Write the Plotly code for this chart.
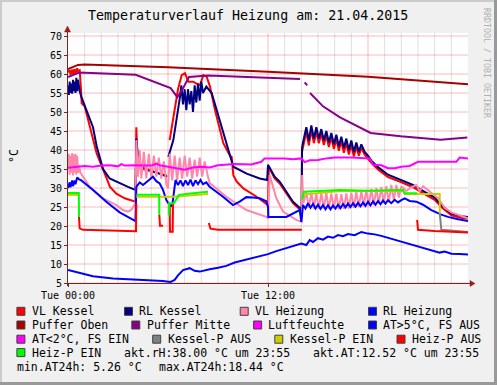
import plotly.graph_objects as go

# ---------------- data (hours since Tue 00:00, °C) ----------------
T_VL_KESSEL = [0, 0.1, 0.15, 0.25, 0.3, 0.4, 0.45, 0.55, 0.6, 0.7, 0.78, 0.82, 1.0, 1.22, 1.72, 2.12, 2.52, 2.9, 3.4, 4.05,
               4.1, 4.15, 4.3, 4.5, 5.0, 5.5, 5.92, 5.98, 6.1, 6.25, 6.42, 6.6, 6.82, 7.02, 7.22, 7.52, 7.7, 7.92, 8.12, 8.32,
               8.52, 8.82, 9.32, 9.72, 9.82, 9.92, 10.12, 10.52, 11.32, 12.0, 12.05, 12.4, 12.7, 13.5, 13.95, 14.02,
               14.04, 14.1, 14.3, 14.45, 14.6, 14.75, 14.9, 15.05, 15.2, 15.35, 15.5, 15.65, 15.8, 15.95, 16.1, 16.25,
               16.4, 16.55, 16.7, 16.85, 17.0, 17.15, 17.3, 17.45, 17.6, 17.8, 18.0, 18.2, 18.6, 19.2, 19.9, 20.7, 21.4,
               22.0, 22.4, 23.0, 23.6, 24.0]
VL_KESSEL = [60.5, 61, 59.8, 61.2, 60, 61.3, 60.2, 61.5, 60.8, 61, 56, 52.3, 51.5, 47.9, 39.1, 34.7, 30.3, 28.5, 27.3, 26.4,
             46, 40, 36, 35, 34.3, 33.8, 33.3, None, 42.6, 47, 51.4, 56, 59.7, 60.2, 58, 58, 57.5, 57.1, 59.7, 59.3,
             56.7, 50.5, 41.8, 38.5, 38.2, 33.4, 31.7, 29.9, 27.7, 25.5, 35.5, 32.5, 31.2, 26, 24.2, 22.0,
             39.5, 40.8, 44.8, 41.2, 45.3, 41.8, 44.8, 41.8, 44.3, 41.3, 43.8, 40.8, 43.3, 40.3, 42.8, 39.8,
             42.3, 39.3, 41.8, 38.8, 41.3, 38.3, 40.8, 38.5, 40.5, 38.8, 37.8, 36.6, 34.9, 32.9, 31.7, 30.2, 28.4,
             26.9, 25.0, 22.8, 22.1, 22.0]

T_RL_KESSEL = [0, 0.05, 0.1, 0.15, 0.2, 0.25, 0.3, 0.35, 0.4, 0.45, 0.5, 0.55, 0.6, 0.65, 0.7, 0.8, 1.2, 1.5, 1.72, 2.1,
               2.5, 3.1, 3.6, 4.05, 4.1, 4.2, 4.4, 4.9, 5.5, 5.95, 5.99, 6.02, 6.32, 6.72, 6.8, 6.9, 7.0, 7.1, 7.2, 7.3,
               7.4, 7.5, 7.6, 7.7, 7.8, 7.9, 8.0, 8.1, 8.3, 8.62, 8.92, 9.52, 9.92, 10.72, 11.5, 11.95, 12.0, 12.4,
               12.7, 13.5, 13.95, 14.02, 14.04, 14.1, 14.3, 14.45, 14.6, 14.75, 14.9, 15.05, 15.2, 15.35, 15.5, 15.65,
               15.8, 15.95, 16.1, 16.25, 16.4, 16.55, 16.7, 16.85, 17.0, 17.15, 17.3, 17.45, 17.6, 17.8, 18.0, 18.2,
               18.6, 19.2, 19.9, 20.7, 21.4, 22.0, 22.4, 23.0, 23.6, 24.0]
RL_KESSEL = [57, 54.5, 58, 55, 57.5, 54.8, 58.5, 55.5, 58, 55, 59, 55.5, 58.5, 56, 55.5, 54, 49.7, 46, 41, 35,
             32.5, 31.2, 30.3, 29.5, 43, 38, 35.6, 34.7, 33.8, 33, None, 38.2, 42.6, 54, 57, 52, 56, 50.5, 56, 52,
             55.5, 50, 57, 52.5, 57.5, 53, 58, 55, 56.7, 55, 50.5, 40.9, 35.6, 33.8, 32.5, 32.1, 36.1, 33,
             31.7, 26.4, 24.6, 22.3, 40.5, 42, 46, 42.5, 46.5, 43, 46, 43, 45.5, 42.5, 45, 42,
             44.5, 41.5, 44, 41, 43.5, 40.5, 43, 40, 42.5, 39.5, 42, 39.5, 41.5, 39.5, 38.5, 37.2,
             35.5, 33.5, 32.3, 30.8, 29.0, 27.5, 25.5, 23.3, 22.6, 22.4]

T_VL_HEIZUNG = [0, 0.05, 0.1, 0.15, 0.2, 0.25, 0.3, 0.35, 0.4, 0.45, 0.5, 0.55, 0.6, 0.65, 0.75, 1.3, 2.1, 2.9, 3.3,
                3.6, 3.8, 4.05, 4.1, 4.2, 4.3, 4.4, 4.55, 4.7, 4.85, 5.0, 5.15, 5.3, 5.45, 5.6, 5.75, 5.9, 6.0, 6.1,
                6.25, 6.4, 6.55, 6.7, 6.85, 7.0, 7.15, 7.3, 7.45, 7.6, 7.75, 7.9, 8.05, 8.2, 8.4, 8.5, 9.5, 10.7,
                11.9, 12.0, 12.1, 12.5, 12.9, 13.7, 14.02, 14.05, 14.12, 14.3, 14.45, 14.6, 14.75, 14.9, 15.05, 15.2,
                15.35, 15.5, 15.65, 15.8, 15.95, 16.1, 16.25, 16.4, 16.55, 16.7, 16.85, 17.0, 17.15, 17.3, 17.45,
                17.6, 17.75, 17.9, 18.05, 18.2, 18.35, 18.5, 18.65, 18.8, 18.95, 19.1, 19.25, 19.4, 19.55, 19.7,
                19.85, 20.0, 20.3, 20.6, 20.9, 21.1, 21.3, 21.6, 21.9, 22.2, 22.6, 23.0, 23.5, 24.0]
VL_HEIZUNG = [35, 39, 33.5, 38.5, 34, 39.2, 33.3, 38.8, 34, 39, 33.5, 38.5, 34, 36, 34, 30.3, 27.3, 25.5, 24.2,
              23.8, 24.3, 26, 42.6, 33, 40, 32.5, 39.5, 32.5, 39, 32.5, 38.5, 33, 38, 32.5, 37, 31, 30, 39,
              32, 38.5, 32, 38, 32.5, 38.5, 33, 38, 32.5, 37.5, 33, 38, 33, 37, 33, 31.3, 27.7, 24.2,
              22.4, 22, 33.4, 27.3, 23.8, 21.6, 21.1, 33.4, 26, 29, 24.8, 28.8, 24.6, 28.6, 24.5, 28.7,
              24.6, 28.8, 24.5, 28.6, 24.6, 28.5, 24.4, 28.4, 24.5, 28.6, 24.6, 28.8, 24.8, 29, 25,
              29.2, 25.2, 29.5, 25.3, 29.8, 25.5, 30, 25.8, 30.3, 26, 30.5, 26.3, 30.8, 26.8, 30.8,
              27.5, 30.5, 29.2, 30.2, 30.8, 29.2, 30.5, 29.5, 28.5, 27.3, 24.8, 23.6, 22.8, 22.0]

T_RL_HEIZUNG = [0, 0.1, 0.15, 0.25, 0.3, 0.4, 0.45, 0.55, 0.65, 0.8, 1.5, 2.3, 3.1, 3.6, 4.05, 4.1, 4.3, 4.5, 4.8, 5.1,
                5.3, 5.5, 5.7, 5.9, 6.1, 6.25, 6.45, 6.6, 6.75, 6.9, 7.05, 7.2, 7.35, 7.5, 7.65, 7.8, 7.95, 8.1,
                8.3, 8.5, 9.3, 9.9, 10.3, 10.7, 11.1, 11.5, 11.9, 12.0, 12.02, 13.1, 13.9, 14.0, 14.1, 14.25, 14.4,
                14.55, 14.7, 14.85, 15.0, 15.15, 15.3, 15.45, 15.6, 15.75, 15.9, 16.05, 16.2, 16.35, 16.5, 16.65,
                16.8, 16.95, 17.1, 17.25, 17.4, 17.55, 17.7, 17.85, 18.0, 18.15, 18.3, 18.45, 18.6, 18.75, 18.9,
                19.05, 19.2, 19.4, 19.6, 19.8, 20.0, 20.2, 20.5, 20.9, 21.3, 21.8, 22.4, 22.8, 23.4, 24.0]
RL_HEIZUNG = [30, 31.5, 30.2, 32, 30.5, 32, 31, 32.8, 32.3, 32, 29.5, 26.4, 23.6, 22.3, 21.3, 30.3, 31.5, 30.8, 32, 33,
              31.8, 31.2, 29.5, 26.8, 25.5, 25.2, 32.1, 30.8, 32, 30.5, 32, 30.8, 32.2, 30.5, 32, 31, 32.1, 31,
              31.5, 30.3, 27.7, 25.5, 26.4, 27.6, 27.5, 27.3, 26.5, 25.1, 22.4, 22.4, 24.2, 21.1, 25.5, 24.6, 26,
              24.8, 25.8, 24.6, 25.6, 24.5, 25.5, 24.4, 25.5, 24.4, 25.4, 24.6, 25.6, 24.7, 25.8, 24.9,
              25.9, 25, 26, 25.1, 26.1, 25.2, 26.2, 25.3, 26.4, 25.4, 26.5, 25.6, 26.6, 25.7, 26.7,
              25.9, 26.8, 26, 26.9, 26.2, 26.8, 27.3, 26.6, 26.4, 25.6, 24.2, 23, 22.4, 21.8, 21.3]

T_PUFFER_OBEN = [0, 0.6, 1.0, 6, 12, 18, 24]
PUFFER_OBEN = [61.3, 62.4, 62.5, 61.8, 60.6, 59.3, 57.3]

T_PUFFER_MITTE = [0, 0.66, 4.06, 6.16, 6.56, 6.86, 7.26, 8.4, 13.92, 14.05, 14.2, 14.35, 14.42, 14.52, 15.3, 16.32,
                  16.96, 18.16, 19.96, 22.36, 23.96]
PUFFER_MITTE = [59.2, 60.4, 59.8, 56.3, 53.9, 55.9, 59.2, 59.6, 58.7, None, 57.8, 57.0, None, 55.0, 51.5, 48.6,
                47.1, 44.5, 43.6, 42.7, 43.3]

T_LUFTFEUCHTE = [0, 0.5, 1, 1.5, 2, 2.5, 3, 3.2, 3.4, 4, 5, 5.3, 5.5, 6, 6.5, 7, 7.5, 8, 8.5, 9, 10, 11, 11.6, 11.8,
                 13, 13.5, 14, 14.2, 14.5, 15, 15.5, 16, 17, 18.1, 18.3, 18.8, 19.2, 19.6, 20, 20.5, 21, 22, 23.3,
                 23.5, 24]
LUFTFEUCHTE = [35.3, 35.6, 35.8, 35.6, 35.9, 36, 35.7, 36.3, 35.9, 36, 35.9, 36.4, 36, 35.6, 35.2, 34.8, 35.4, 35.6,
               35.4, 36, 36.3, 36.2, 36.9, 37.8, 37.8, 37.6, 37.8, 36.8, 37.3, 37.4, 37.8, 38.0, 38.0, 37.8, 36.1,
               36, 35.2, 35.2, 35.6, 35.8, 36.9, 36.9, 36.9, 38, 37.8]

T_AT = [0, 0.7, 1.5, 2.7, 3.8, 4.8, 5.7, 6.15, 6.4, 6.6, 6.9, 7.3, 7.6, 7.9, 8.2, 8.5, 9.0, 9.5, 10.0, 10.5, 11.0,
        11.5, 12.0, 12.5, 13.0, 13.5, 14.0, 14.3, 14.5, 14.7, 15.0, 15.3, 15.6, 15.9, 16.2, 16.5, 16.8, 17.2, 17.6,
        18.0, 18.4, 18.8, 19.2, 19.6, 20.0, 20.4, 20.8, 21.2, 21.6, 22.0, 22.3, 22.6, 23.0, 23.5, 24.0]
AT_WARM = [8.4, 7.6, 6.8, 6.2, 6.0, 5.8, 5.5, 5.26, 5.8, 7.0, 8.4, 8.9, 8.2, 8.0, 8.4, 8.6, 9.0, 9.5, 10.4, 10.9,
           11.6, 12.0, 12.6, 13.4, 14.0, 14.8, 15.4, 15.0, 16.3, 15.8, 16.8, 16.4, 17.2, 16.9, 17.6, 17.3, 17.9,
           17.6, 18.44, 18.0, 17.8, 17.4, 16.9, 16.2, 15.8, 15.3, 14.8, 14.3, 13.7, 13.2, 13.0, 13.3, 12.7, 12.6,
           12.52]

T_AT_COLD = []
AT_COLD = []

T_KESSEL_P_AUS = [22.31, 22.4, 24.0]
KESSEL_P_AUS = [23.2, 19.0, 18.4]

T_KESSEL_P_EIN = [0, 0.65, 0.7, 4.1, 6.3, 8.4, 8.45, 14.05, 16.3, 20.1, 20.2, 22.3, 22.31]
KESSEL_P_EIN = [28.2, 28.2, None, 27.7, 27.7, 28.4, None, 28.2, 29.2, 29.2, 28.4, 28.4, 23.2]

T_HEIZ_P_AUS = [0.66, 0.7, 0.9, 2.0, 4.08, 4.1, 4.15, 5.48, 5.52, 5.7, 5.8, 6.1, 6.12, 6.28, 6.3, 6.4, 8.45, 8.55,
                9.0, 14.03, 14.1, 20.95, 21.0, 22.0, 24.0]
HEIZ_P_AUS = [22.4, 19.4, 19.0, 18.9, 18.6, 26.0, None, 22.9, 20.1, 20.1, None, 26.0, 18.5, 18.5, 26.0, None, 20.8,
              19.3, 19.0, 19.0, None, 21.6, 19.0, 18.7, 18.3]

T_HEIZ_P_EIN = [0, 0.65, 0.66, 0.7, 4.1, 5.47, 5.48, 5.6, 6.05, 6.06, 6.35, 6.66, 7.5, 8.4, 8.45, 14.05, 14.15,
                16.3, 18.0, 20.1, 20.2, 20.95]
HEIZ_P_EIN = [28.7, 28.7, 22.4, None, 28.2, 28.2, 22.9, None, 22.8, 26.0, 26.0, 28.2, 28.6, 29.0, None, 27.0, 29.0,
              29.5, 29.3, 29.5, 28.6, 28.6]

SERIES = [
    ("VL Kessel", T_VL_KESSEL, VL_KESSEL, "#FF0000"),
    ("RL Kessel", T_RL_KESSEL, RL_KESSEL, "#000080"),
    ("VL Heizung", T_VL_HEIZUNG, VL_HEIZUNG, "#FF88AA"),
    ("RL Heizung", T_RL_HEIZUNG, RL_HEIZUNG, "#0000FF"),
    ("Puffer Oben", T_PUFFER_OBEN, PUFFER_OBEN, "#A80000"),
    ("Puffer Mitte", T_PUFFER_MITTE, PUFFER_MITTE, "#880088"),
    ("Luftfeuchte", T_LUFTFEUCHTE, LUFTFEUCHTE, "#FF00FF"),
    ("AT>5°C, FS AUS", T_AT, AT_WARM, "#0000FF"),
    ("AT<2°C, FS EIN", T_AT_COLD, AT_COLD, "#FF00FF"),
    ("Kessel-P AUS", T_KESSEL_P_AUS, KESSEL_P_AUS, "#808080"),
    ("Kessel-P EIN", T_KESSEL_P_EIN, KESSEL_P_EIN, "#CCCC00"),
    ("Heiz-P AUS", T_HEIZ_P_AUS, HEIZ_P_AUS, "#FF0000"),
    ("Heiz-P EIN", T_HEIZ_P_EIN, HEIZ_P_EIN, "#00FF00"),
]

LEGEND_ROWS = [
    [("VL Kessel", 30.7), ("RL Kessel", 138.3), ("VL Heizung", 254.0), ("RL Heizung", 382.3)],
    [("Puffer Oben", 30.7), ("Puffer Mitte", 145.6), ("Luftfeuchte", 267.4), ("AT>5°C, FS AUS", 382.3)],
    [("AT<2°C, FS EIN", 30.7), ("Kessel-P AUS", 166.5), ("Kessel-P EIN", 288.6), ("Heiz-P AUS", 410.8)],
    [("Heiz-P EIN", 30.7)],
]
INFO_TEXTS = [("akt.rH:38.00 °C um 23:55", 122.5, 3), ("akt.AT:12.52 °C um 23:55", 312.3, 3),
              ("min.AT24h: 5.26 °C", 16.0, 4), ("max.AT24h:18.44 °C", 158.3, 4)]
ROW_Y = [311.3, 325.0, 339.2, 352.6, 367.0]

TITLE = "Temperaturverlauf Heizung am: 21.04.2015"
X_TICKS = [0, 12]
X_TICKTEXT = ["Tue 00:00", "Tue 12:00"]
Y_TICKS = list(range(5, 71, 5))

# ---------------- geometry ----------------
W, H = 497, 385
L, R, T, B = 68, 468, 33, 283
MONO = "DejaVu Sans Mono"


def px(x):
    return (x - L) / (R - L)


def py(y):
    return (B - y) / (B - T)


fig = go.Figure()
for name, t, v, col in SERIES:
    fig.add_trace(go.Scatter(x=t, y=v, mode="lines", name=name, line=dict(color=col, width=2),
                             connectgaps=False, hoverinfo="skip"))

shapes = []
# grid
for h in range(1, 24):
    if h % 6 == 0:
        continue
    shapes.append(dict(type="line", xref="x", yref="paper", x0=h, x1=h, y0=0, y1=1,
                       line=dict(color="rgba(140,140,140,0.28)", width=1), layer="below"))
for val in Y_TICKS:
    shapes.append(dict(type="line", xref="paper", yref="y", x0=0, x1=1, y0=val, y1=val,
                       line=dict(color="rgba(255,0,0,0.27)", width=1), layer="below"))
for h in (6, 12, 18):
    shapes.append(dict(type="line", xref="x", yref="paper", x0=h, x1=h, y0=0, y1=1,
                       line=dict(color="rgba(255,0,0,0.27)", width=1), layer="below"))

AXIS = "#6A2A2A"
ARROW = "#A01818"
# axes
shapes.append(dict(type="line", xref="paper", yref="paper", x0=px(65), x1=px(472), y0=py(283.5), y1=py(283.5),
                   line=dict(color=AXIS, width=1)))
shapes.append(dict(type="line", xref="paper", yref="paper", x0=px(67.5), x1=px(67.5), y0=py(286), y1=py(29),
                   line=dict(color=AXIS, width=1)))
shapes.append(dict(type="path", xref="paper", yref="paper",
                   path=f"M {px(470)} {py(280.5)} L {px(475)} {py(283.5)} L {px(470)} {py(286.5)} Z",
                   fillcolor=ARROW, line=dict(color=ARROW, width=0.5)))
shapes.append(dict(type="path", xref="paper", yref="paper",
                   path=f"M {px(64.5)} {py(32)} L {px(67.5)} {py(26)} L {px(70.5)} {py(32)} Z",
                   fillcolor=ARROW, line=dict(color=ARROW, width=0.5)))
# 3D frame
shapes.append(dict(type="rect", xref="paper", yref="paper", x0=px(0), x1=px(W), y0=py(2), y1=py(0),
                   fillcolor="#CBCBCB", line=dict(width=0)))
shapes.append(dict(type="rect", xref="paper", yref="paper", x0=px(0), x1=px(2), y0=py(H), y1=py(0),
                   fillcolor="#CBCBCB", line=dict(width=0)))
shapes.append(dict(type="rect", xref="paper", yref="paper", x0=px(0), x1=px(W), y0=py(H), y1=py(H - 3),
                   fillcolor="#999999", line=dict(width=0)))
shapes.append(dict(type="rect", xref="paper", yref="paper", x0=px(W - 3), x1=px(W), y0=py(H), y1=py(0),
                   fillcolor="#999999", line=dict(width=0)))

annotations = []
colors = {name: col for name, _, _, col in SERIES}
for r, row in enumerate(LEGEND_ROWS):
    yc = ROW_Y[r]
    for name, tx in row:
        bx = tx - 14.3
        shapes.append(dict(type="rect", xref="paper", yref="paper", x0=px(bx + 0.5), x1=px(bx + 8.5),
                           y0=py(yc + 4), y1=py(yc - 4), fillcolor=colors[name],
                           line=dict(color="#404040", width=1)))
        annotations.append(dict(text=name, x=px(tx - 1), y=py(yc), xref="paper", yref="paper",
                                xanchor="left", yanchor="middle", showarrow=False,
                                font=dict(family=MONO, size=11.5, color="#000")))
for text, tx, r in INFO_TEXTS:
    annotations.append(dict(text=text, x=px(tx - 1), y=py(ROW_Y[r]), xref="paper", yref="paper",
                            xanchor="left", yanchor="middle", showarrow=False,
                            font=dict(family=MONO, size=11.5, color="#000")))

annotations.append(dict(text=TITLE, x=px(248), y=py(16), xref="paper", yref="paper", xanchor="center",
                        yanchor="middle", showarrow=False, font=dict(family=MONO, size=13.3, color="#000")))
annotations.append(dict(text="°C", x=px(14), y=py(156), xref="paper", yref="paper", xanchor="center",
                        yanchor="middle", showarrow=False, textangle=-90,
                        font=dict(family=MONO, size=11.5, color="#000")))
annotations.append(dict(text="RRDTOOL / TOBI OETIKER", x=px(487), y=py(63), xref="paper", yref="paper",
                        xanchor="center", yanchor="middle", showarrow=False, textangle=90,
                        font=dict(family=MONO, size=8.3, color="#B0B0B0")))

fig.update_layout(
    width=W, height=H,
    margin=dict(l=L, r=W - R, t=T, b=H - B, pad=0, autoexpand=False),
    paper_bgcolor="#F0F0F0", plot_bgcolor="#FFFFFF",
    showlegend=False, hovermode=False,
    shapes=shapes, annotations=annotations,
    font=dict(family=MONO, size=10, color="#000"),
    xaxis=dict(range=[0, 24], showgrid=False, zeroline=False, showline=False, automargin=False,
               tickmode="array", tickvals=X_TICKS, ticktext=X_TICKTEXT,
               ticks="outside", ticklen=3, tickcolor=AXIS, tickfont=dict(family=MONO, size=10)),
    yaxis=dict(range=[5, 70.8], showgrid=False, zeroline=False, showline=False, automargin=False,
               tickmode="array", tickvals=Y_TICKS, ticks="outside", ticklen=3, tickcolor=AXIS,
               tickfont=dict(family=MONO, size=10)),
)

fig.write_html("out.html", config={"displayModeBar": False, "staticPlot": True},
               post_script="document.body.style.margin='0';document.body.style.padding='0';")
